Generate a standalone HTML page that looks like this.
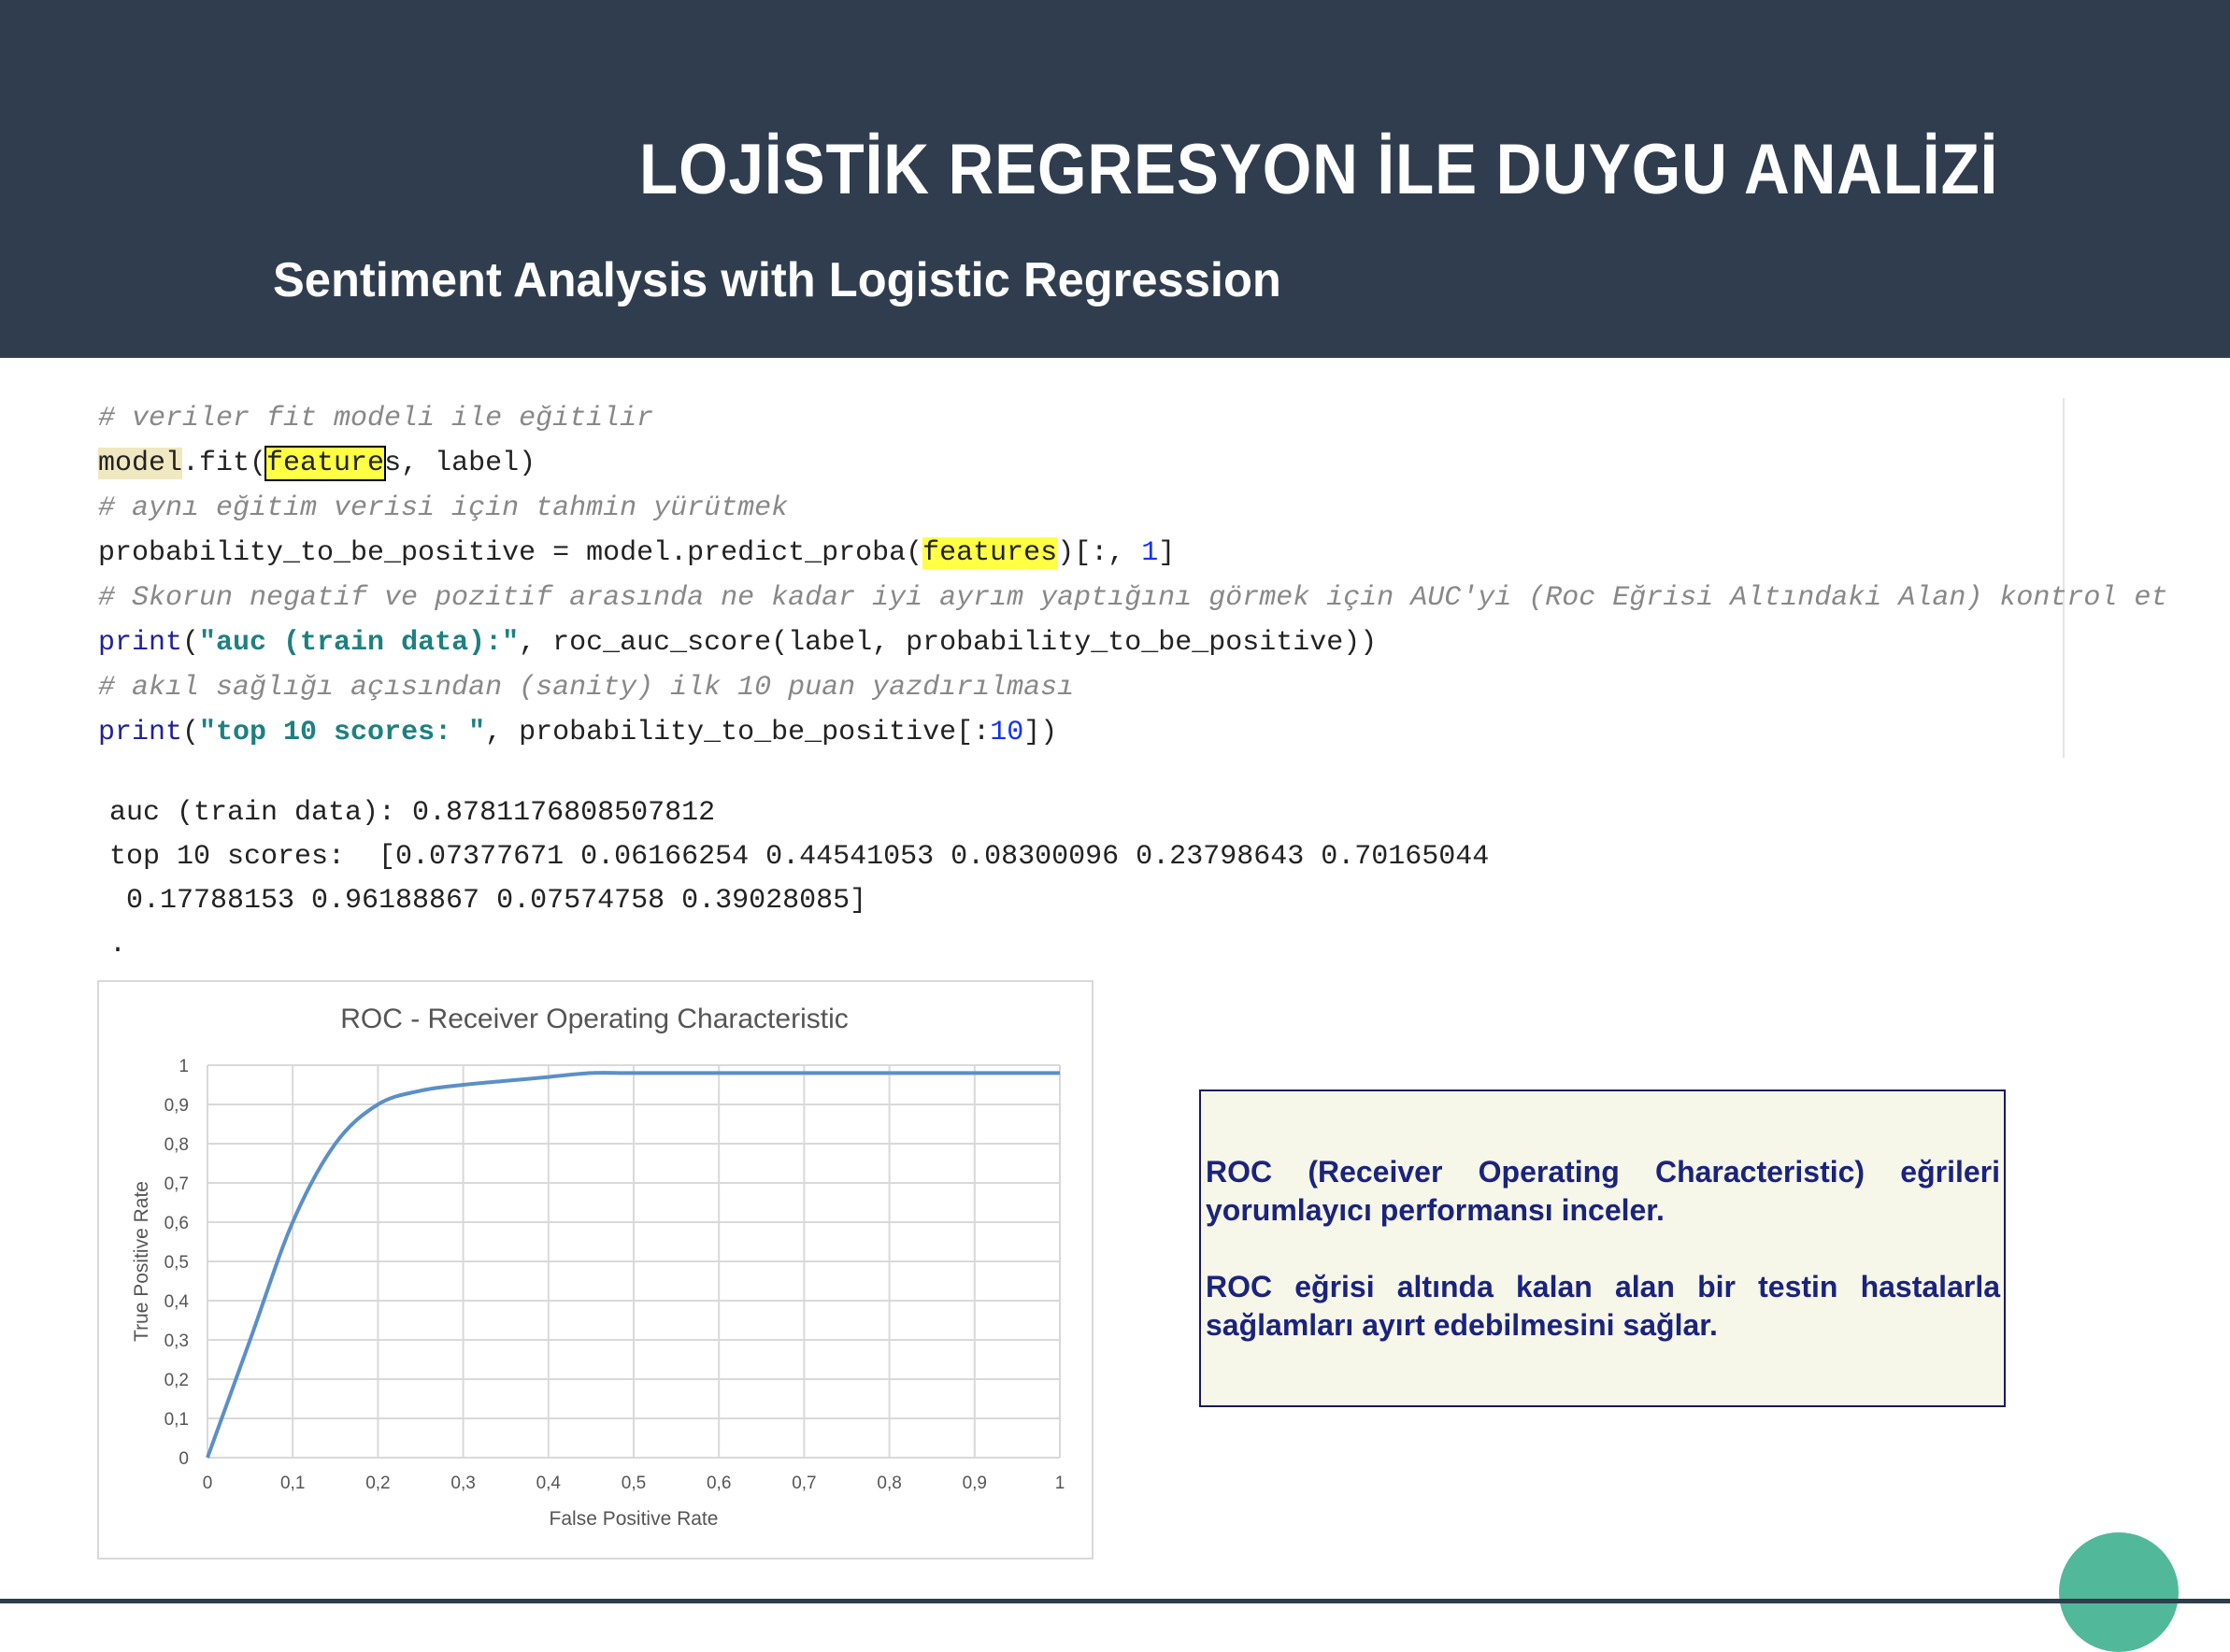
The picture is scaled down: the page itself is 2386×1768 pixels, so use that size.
<!DOCTYPE html>
<html><head><meta charset="utf-8"><style>
body{margin:0;width:2386px;height:1716px;background:#fff;position:relative;overflow:hidden;font-family:"Liberation Sans",sans-serif}
.hdr{position:absolute;left:0;top:0;width:2386px;height:383px;background:#2f3d4e}
.t1{position:absolute;left:684px;top:138px;font-size:76px;font-weight:bold;color:#fff;letter-spacing:1px;white-space:nowrap;transform:scaleX(0.888);transform-origin:0 0}
.t2{position:absolute;left:292px;top:270px;font-size:52px;font-weight:bold;color:#fff;white-space:nowrap;transform:scaleX(0.974);transform-origin:0 0}
.code{position:absolute;left:105px;font-family:"Liberation Mono",monospace;font-size:30px;white-space:pre;color:#222;line-height:48px}
.c{color:#888;font-style:italic}
.s{color:#1e8080;font-weight:bold}.k{color:#2020a0}.n{color:#1030ff}
.hl{background:#ffff44}
.box{position:absolute;left:1283px;top:1166px;width:863px;height:340px;background:#f6f6e9;border:2px solid #1a1a5a;box-sizing:border-box}
.box p{margin:0;position:absolute;left:5px;width:850px;font-size:32px;font-weight:bold;color:#1a237e;line-height:41px;text-align:justify;text-align-last:left}
</style></head><body>
<div class="hdr">
<div class="t1">LOJİSTİK REGRESYON İLE DUYGU ANALİZİ</div>
<div class="t2">Sentiment Analysis with Logistic Regression</div>
</div>
<div style="position:absolute;left:2207px;top:426px;width:2px;height:385px;background:#e4e4e4"></div>
<div class="code" style="top:424px"><span class="c"># veriler fit modeli ile eğitilir</span>
<span style="background:#f0e8c0">model</span>.fit(<span class="hl" style="outline:2px solid #000">feature</span>s, label)
<span class="c"># aynı eğitim verisi için tahmin yürütmek</span>
probability_to_be_positive = model.predict_proba(<span class="hl">features</span>)[:, <span class="n">1</span>]
<span class="c"># Skorun negatif ve pozitif arasında ne kadar iyi ayrım yaptığını görmek için AUC'yi (Roc Eğrisi Altındaki Alan) kontrol et</span>
<span class="k">print</span>(<span class="s">"auc (train data):"</span>, roc_auc_score(label, probability_to_be_positive))
<span class="c"># akıl sağlığı açısından (sanity) ilk 10 puan yazdırılması</span>
<span class="k">print</span>(<span class="s">"top 10 scores: "</span>, probability_to_be_positive[:<span class="n">10</span>])</div>
<div class="code" style="top:847px;left:117px;line-height:47px">auc (train data): 0.8781176808507812
top 10 scores:  [0.07377671 0.06166254 0.44541053 0.08300096 0.23798643 0.70165044
 0.17788153 0.96188867 0.07574758 0.39028085]
.</div>
<svg id="chart" style="position:absolute;left:0;top:0" width="2386" height="1716"></svg>
<div class="box">
<p style="top:66px">ROC (Receiver Operating Characteristic) eğrileri yorumlayıcı performansı inceler.</p>
<p style="top:189px">ROC eğrisi altında kalan alan bir testin hastalarla sağlamları ayırt edebilmesini sağlar.</p>
</div>
<div style="position:absolute;left:2203px;top:1640px;width:128px;height:128px;border-radius:50%;background:#52b89a"></div>
<div style="position:absolute;left:0;top:1711px;width:2386px;height:5px;background:#2f3d4e"></div>
<script>
const fpr=[0,0.05,0.1,0.15,0.2,0.25,0.3,0.35,0.4,0.45,0.5,0.6,0.7,0.8,0.9,1];
const tpr=[0,0.3,0.6,0.8,0.9,0.935,0.95,0.96,0.97,0.98,0.98,0.98,0.98,0.98,0.98,0.98];
const ticks=[0,0.1,0.2,0.3,0.4,0.5,0.6,0.7,0.8,0.9,1];
const tickLabels=["0","0,1","0,2","0,3","0,4","0,5","0,6","0,7","0,8","0,9","1"];
const NS="http://www.w3.org/2000/svg";
const svg=document.getElementById('chart');
const X0=222,X1=1134,Y0=1560,Y1=1140;
const sx=v=>X0+(X1-X0)*v, sy=v=>Y0-(Y0-Y1)*v;
function mk(t,a){const e=document.createElementNS(NS,t);for(const k in a)e.setAttribute(k,a[k]);svg.appendChild(e);return e;}
const frame=mk('rect',{x:105,y:1050,width:1064,height:618,fill:'#fff',stroke:'#d9d9d9','stroke-width':2});


const title=mk('text',{x:636,y:1100,'font-size':30,fill:'#555','text-anchor':'middle','font-family':'Liberation Sans, sans-serif'});
title.textContent='ROC - Receiver Operating Characteristic';


ticks.forEach((t,i)=>{
 const gv=mk('line',{x1:sx(t),x2:sx(t),y1:Y1,y2:Y0,stroke:'#d9d9d9','stroke-width':2});
 
 
 const gh=mk('line',{x1:X0,x2:X1,y1:sy(t),y2:sy(t),stroke:'#d9d9d9','stroke-width':2});
 
 
 const xl=mk('text',{x:sx(t),y:Y0+33,'font-size':19,fill:'#555','text-anchor':'middle','font-family':'Liberation Sans, sans-serif'});
 xl.textContent=tickLabels[i];
 
 
 const yl=mk('text',{x:X0-20,y:sy(t)+7,'font-size':19,fill:'#555','text-anchor':'end','font-family':'Liberation Sans, sans-serif'});
 yl.textContent=tickLabels[i];
 
 
});
const xt=mk('text',{x:678,y:1632,'font-size':21,fill:'#555','text-anchor':'middle','font-family':'Liberation Sans, sans-serif'});
xt.textContent='False Positive Rate';


const yt=mk('text',{x:0,y:0,'font-size':21,fill:'#555','text-anchor':'middle','font-family':'Liberation Sans, sans-serif',transform:'translate(158,1350) rotate(-90)'});
yt.textContent='True Positive Rate';


const P=fpr.map((f,i)=>[sx(f),sy(tpr[i])]);
let d='M'+P[0][0]+' '+P[0][1];
for(let i=0;i<P.length-1;i++){const p0=P[i-1]||P[i],p1=P[i],p2=P[i+1],p3=P[i+2]||p2;
 d+=` C${p1[0]+(p2[0]-p0[0])/6} ${p1[1]+(p2[1]-p0[1])/6} ${p2[0]-(p3[0]-p1[0])/6} ${p2[1]-(p3[1]-p1[1])/6} ${p2[0]} ${p2[1]}`;}
const line=mk('path',{d:d,fill:'none',stroke:'#5b8fc7','stroke-width':4});


</script>
</body></html>
